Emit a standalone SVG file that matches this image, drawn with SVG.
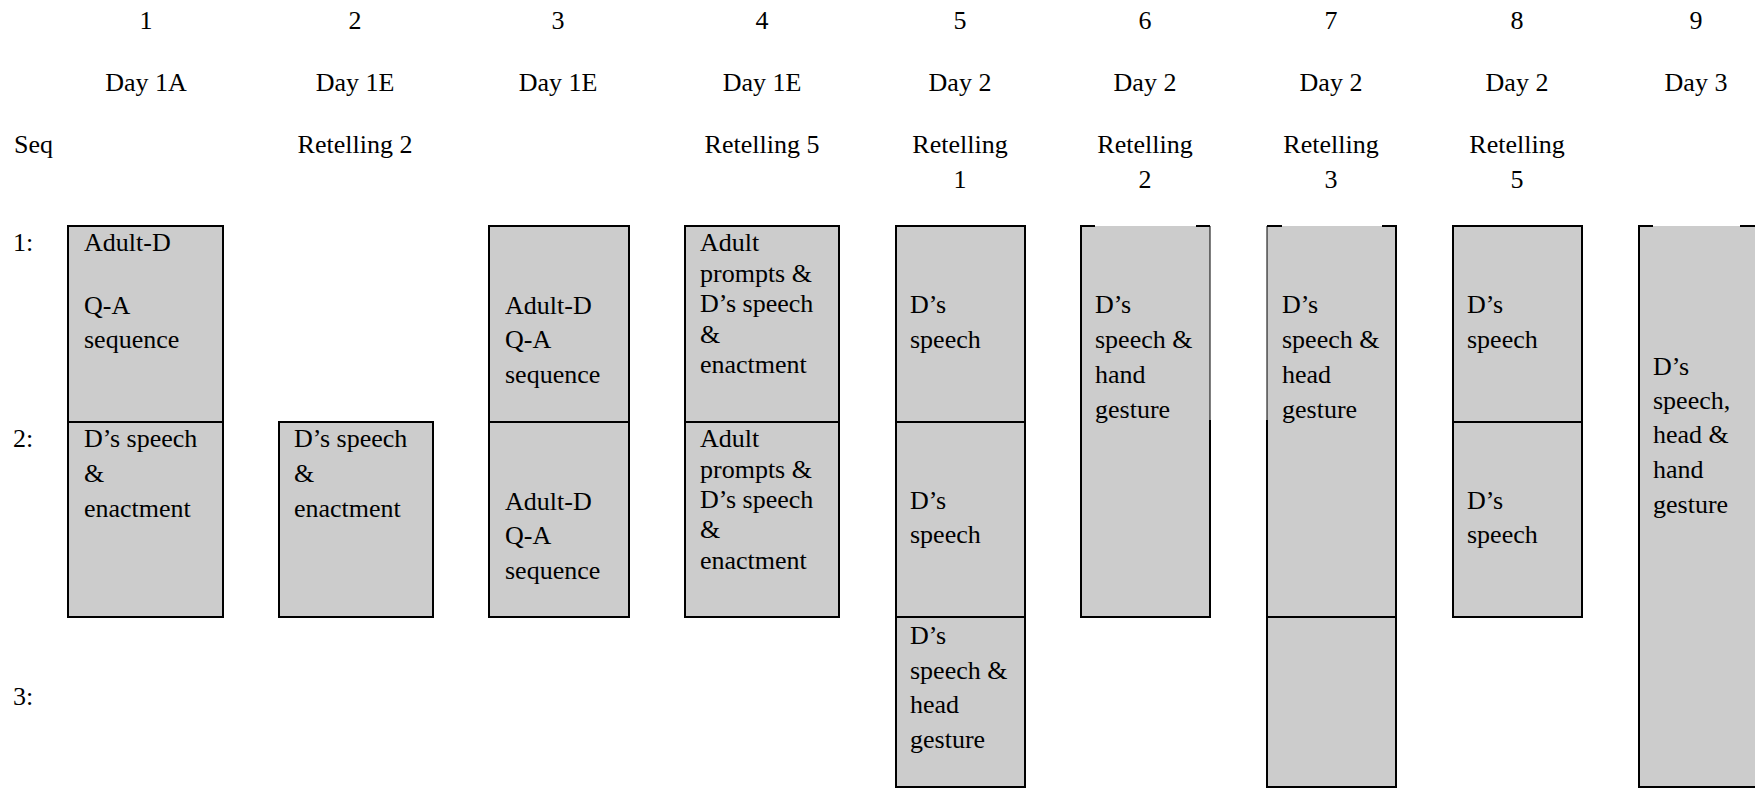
<svg xmlns="http://www.w3.org/2000/svg" width="1755" height="788" viewBox="0 0 1755 788">
<style>
text{font-family:"Liberation Serif","Times New Roman",serif;font-size:26px;fill:#000}
.c{text-anchor:middle}
.box{fill:#cccccc;stroke:#000;stroke-width:2}
.fill{fill:#cccccc;stroke:none}
.ln{fill:none;stroke:#000;stroke-width:2}
.thin{fill:none;stroke:#000;stroke-width:1}
</style>
<rect width="1755" height="788" fill="#fff"/>
<g id="header">
<text class="c" x="146" y="29">1</text>
<text class="c" x="355" y="29">2</text>
<text class="c" x="558" y="29">3</text>
<text class="c" x="762" y="29">4</text>
<text class="c" x="960" y="29">5</text>
<text class="c" x="1145" y="29">6</text>
<text class="c" x="1331" y="29">7</text>
<text class="c" x="1517" y="29">8</text>
<text class="c" x="1696" y="29">9</text>
<text class="c" x="146" y="91">Day 1A</text>
<text class="c" x="355" y="91">Day 1E</text>
<text class="c" x="558" y="91">Day 1E</text>
<text class="c" x="762" y="91">Day 1E</text>
<text class="c" x="960" y="91">Day 2</text>
<text class="c" x="1145" y="91">Day 2</text>
<text class="c" x="1331" y="91">Day 2</text>
<text class="c" x="1517" y="91">Day 2</text>
<text class="c" x="1696" y="91">Day 3</text>
<text x="14" y="153">Seq</text>
<text class="c" x="355" y="153">Retelling 2</text>
<text class="c" x="762" y="153">Retelling 5</text>
<text class="c" x="960" y="153">Retelling</text>
<text class="c" x="960" y="188">1</text>
<text class="c" x="1145" y="153">Retelling</text>
<text class="c" x="1145" y="188">2</text>
<text class="c" x="1331" y="153">Retelling</text>
<text class="c" x="1331" y="188">3</text>
<text class="c" x="1517" y="153">Retelling</text>
<text class="c" x="1517" y="188">5</text>
</g>
<g id="row-labels">
<text x="13" y="251">1:</text>
<text x="13" y="447">2:</text>
<text x="13" y="705">3:</text>
</g>
<g id="col1">
<rect class="box" x="68" y="226" width="155" height="196"/>
<rect class="box" x="68" y="422" width="155" height="195"/>
<text x="84" y="251">Adult-D</text>
<text x="84" y="314">Q-A</text>
<text x="84" y="348">sequence</text>
<text x="84" y="447">D’s speech</text>
<text x="84" y="482">&amp;</text>
<text x="84" y="517">enactment</text>
</g>
<g id="col2">
<rect class="box" x="279" y="422" width="154" height="195"/>
<text x="294" y="447">D’s speech</text>
<text x="294" y="482">&amp;</text>
<text x="294" y="517">enactment</text>
</g>
<g id="col3">
<rect class="box" x="489" y="226" width="140" height="196"/>
<rect class="box" x="489" y="422" width="140" height="195"/>
<text x="505" y="314">Adult-D</text>
<text x="505" y="348">Q-A</text>
<text x="505" y="383">sequence</text>
<text x="505" y="510">Adult-D</text>
<text x="505" y="544">Q-A</text>
<text x="505" y="579">sequence</text>
</g>
<g id="col4">
<rect class="box" x="685" y="226" width="154" height="196"/>
<rect class="box" x="685" y="422" width="154" height="195"/>
<text x="700" y="251">Adult</text>
<text x="700" y="282">prompts &amp;</text>
<text x="700" y="312">D’s speech</text>
<text x="700" y="343">&amp;</text>
<text x="700" y="373">enactment</text>
<text x="700" y="447">Adult</text>
<text x="700" y="478">prompts &amp;</text>
<text x="700" y="508">D’s speech</text>
<text x="700" y="538">&amp;</text>
<text x="700" y="569">enactment</text>
</g>
<g id="col5">
<rect class="box" x="896" y="226" width="129" height="196"/>
<rect class="box" x="896" y="422" width="129" height="195"/>
<rect class="box" x="896" y="617" width="129" height="170"/>
<text x="910" y="313">D’s</text>
<text x="910" y="348">speech</text>
<text x="910" y="509">D’s</text>
<text x="910" y="543">speech</text>
<text x="910" y="644">D’s</text>
<text x="910" y="679">speech &amp;</text>
<text x="910" y="713">head</text>
<text x="910" y="748">gesture</text>
</g>
<g id="col6">
<rect class="fill" x="1081" y="226" width="129" height="391"/>
<path class="ln" d="M1095 226H1081V617H1210V420M1196 226H1210"/>
<path class="thin" d="M1210 226V420"/>
<text x="1095" y="313">D’s</text>
<text x="1095" y="348">speech &amp;</text>
<text x="1095" y="383">hand</text>
<text x="1095" y="418">gesture</text>
</g>
<g id="col7">
<rect class="fill" x="1267" y="226" width="129" height="561"/>
<path class="ln" d="M1282 226H1267M1267 420V787H1396V226H1382M1267 617H1396"/>
<path class="thin" d="M1267 226V420"/>
<text x="1282" y="313">D’s</text>
<text x="1282" y="348">speech &amp;</text>
<text x="1282" y="383">head</text>
<text x="1282" y="418">gesture</text>
</g>
<g id="col8">
<rect class="box" x="1453" y="226" width="129" height="196"/>
<rect class="box" x="1453" y="422" width="129" height="195"/>
<text x="1467" y="313">D’s</text>
<text x="1467" y="348">speech</text>
<text x="1467" y="509">D’s</text>
<text x="1467" y="543">speech</text>
</g>
<g id="col9">
<rect class="fill" x="1639" y="226" width="120" height="561"/>
<path class="ln" d="M1653 226H1639V787H1760M1740 226H1760"/>
<text x="1653" y="375">D’s</text>
<text x="1653" y="409">speech,</text>
<text x="1653" y="443">head &amp;</text>
<text x="1653" y="478">hand</text>
<text x="1653" y="513">gesture</text>
</g>
<g id="connectors"></g>
</svg>
